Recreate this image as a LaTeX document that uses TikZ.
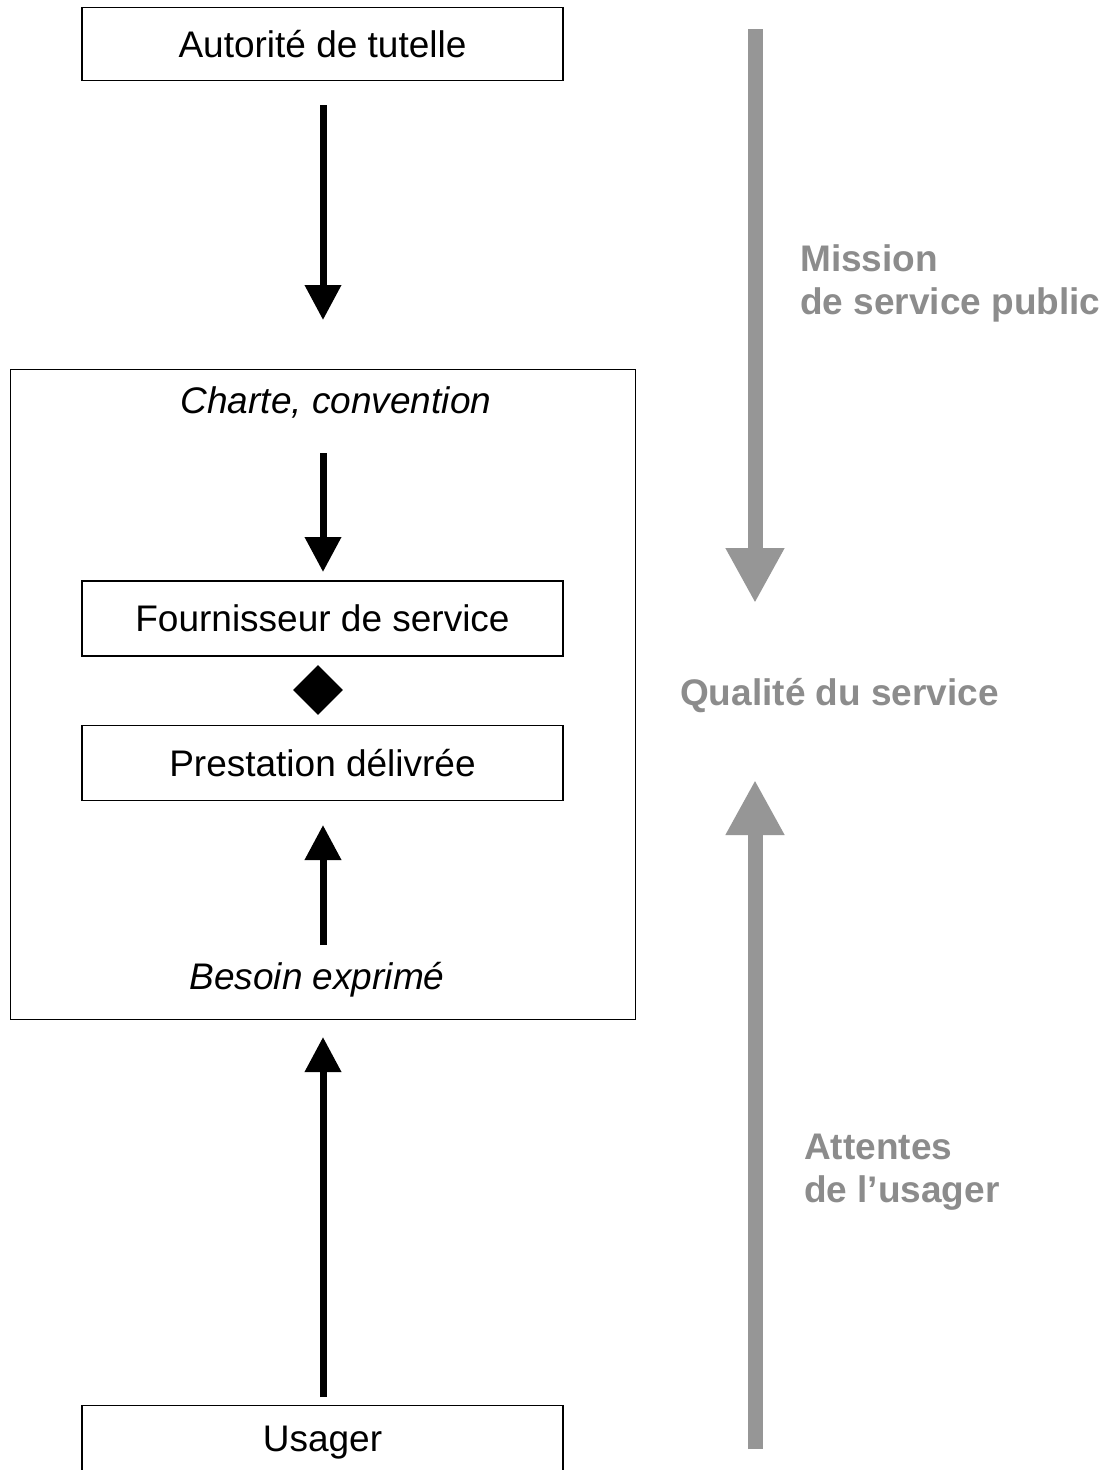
\documentclass[tikz,border=0pt]{standalone}
\usepackage{fontspec}
\setmainfont{Liberation Sans}
\usetikzlibrary{arrows.meta,shapes.geometric}
\definecolor{arrgray}{HTML}{969696}
\definecolor{txtgray}{HTML}{8C8C8C}
\begin{document}
\begin{tikzpicture}[x=1pt,y=-1pt,
 box/.style={draw,line width=1.6pt,minimum width=481pt,minimum height=75pt,inner sep=0pt},
 lbl/.style={font=\fontsize{37}{44}\selectfont},
 ilbl/.style={font=\fontsize{37}{44}\selectfont\itshape,inner sep=0pt},
 blkarrow/.style={line width=7pt,-{Triangle[width=35pt,length=35pt]}},
 grayarrow/.style={line width=15pt,arrgray,-{Triangle[width=55pt,length=55pt]}},
 glbl/.style={font=\fontsize{37}{44}\selectfont\bfseries,text=txtgray,anchor=base west,inner sep=0pt}]
\clip (0,0) rectangle (1107,1470);
\fill[white] (0,0) rectangle (1107,1470);
% outer frame
\node[draw,line width=1.4pt,minimum width=625pt,minimum height=650pt,anchor=north west,inner sep=0pt] (outer) at (10,369) {};
% boxes
\node[box,lbl,minimum height=73pt] (auth) at (322.5,44) {Autorité de tutelle};
\node[box,lbl] (four) at (322.5,618.5) {Fournisseur de service};
\node[box,lbl] (prest) at (322.5,763) {Prestation délivrée};
\node[box,lbl] (usager) at (322.5,1443) {Usager};
% italic labels
\node[ilbl] (charte) at (336,402) {Charte, convention};
\node[ilbl] (besoin) at (317,980) {Besoin exprimé};
% diamond
\node[diamond,fill=black,minimum width=50pt,minimum height=50pt,inner sep=0pt] (dia) at (318,690) {};
% black arrows
\coordinate (a1s) at (323,105); \coordinate (a1e) at (323,320);
\coordinate (a2s) at (323,453); \coordinate (a2e) at (323,572);
\coordinate (a3s) at (323,945); \coordinate (a3e) at (323,825);
\coordinate (a4s) at (323,1397); \coordinate (a4e) at (323,1037);
\draw[blkarrow] (a1s) -- (a1e);
\draw[blkarrow] (a2s) -- (a2e);
\draw[blkarrow] (a3s) -- (a3e);
\draw[blkarrow] (a4s) -- (a4e);
% gray arrows
\coordinate (g1s) at (755,29); \coordinate (g1e) at (755,603);
\coordinate (g2s) at (755,1449); \coordinate (g2e) at (755,780);
\draw[grayarrow] (g1s) -- (g1e);
\draw[grayarrow] (g2s) -- (g2e);
% gray labels
\node[glbl] (mis1) at (800,271) {Mission};
\node[glbl] (mis2) at (800,314) {de service public};
\node[glbl] (qual) at (680,705) {Qualité du service};
\node[glbl] (att1) at (804,1159) {Attentes};
\node[glbl] (att2) at (804,1202) {de l’usager};
\end{tikzpicture}
\end{document}
